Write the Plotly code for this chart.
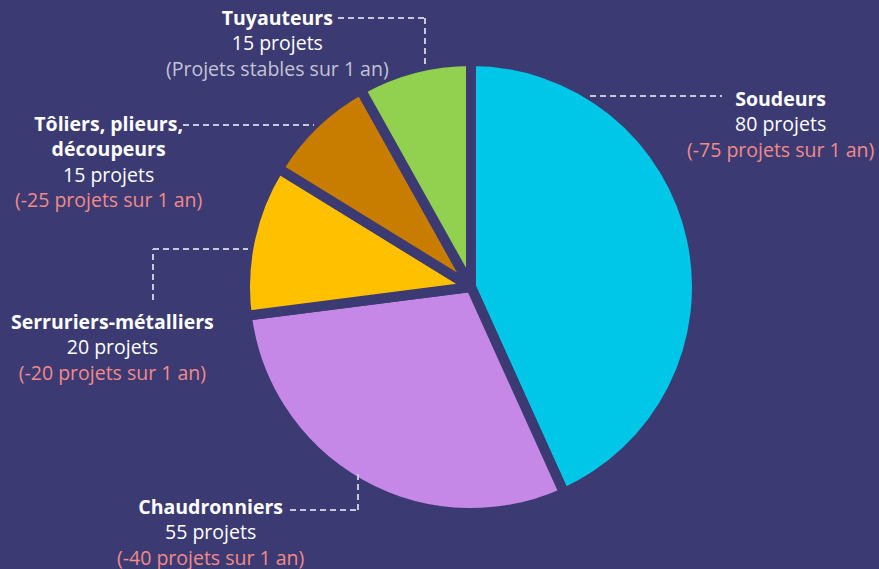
import plotly.graph_objects as go

W, H = 879, 569
BG = "#3B3A72"

metiers = ["Soudeurs", "Chaudronniers", "Serruriers-métalliers",
           "Tôliers, plieurs,<br>découpeurs", "Tuyauteurs"]
projets = [80, 55, 20, 15, 15]
evolution = ["(-75 projets sur 1 an)", "(-40 projets sur 1 an)",
             "(-20 projets sur 1 an)", "(-25 projets sur 1 an)",
             "(Projets stables sur 1 an)"]
couleurs = ["#00C7E8", "#C688E6", "#FFC000", "#C87C00", "#92D050"]
couleurs_evol = ["#F28A8A", "#F28A8A", "#F28A8A", "#F28A8A", "#C4C4D6"]

# label block centres (pixels) and leader-line paths (pixels)
label_pos = [(780, 124), (210, 532), (113, 347), (108, 162), (277, 43)]
leaders = [
    [(590, 96), (722, 96)],
    [(290, 510), (358, 510), (358, 473)],
    [(153, 300), (153, 249), (248, 249)],
    [(183, 125), (314, 125)],
    [(338, 18), (425, 18), (425, 68)],
]

def px(x, y):
    return x / W, 1 - y / H

cx, cy, R = 471, 287, 226
fig = go.Figure(go.Pie(
    labels=[m.replace("<br>", " ") for m in metiers],
    values=projets,
    sort=False,
    direction="clockwise",
    rotation=0,
    marker=dict(colors=couleurs, line=dict(color=BG, width=10)),
    textinfo="none",
    hoverinfo="label+value",
    showlegend=False,
    domain=dict(x=[(cx - R) / W, (cx + R) / W],
                y=[1 - (cy + R) / H, 1 - (cy - R) / H]),
))

FONT = "'Open Sans', Lato, sans-serif"
for m, v, e, ce, (lx, ly) in zip(metiers, projets, evolution, couleurs_evol, label_pos):
    x, y = px(lx, ly)
    fig.add_annotation(
        x=x, y=y, xref="paper", yref="paper", showarrow=False,
        align="center", xanchor="center", yanchor="middle",
        text=f"<b>{m}</b><br>{v} projets<br><span style='color:{ce}'>{e}</span>",
        font=dict(family=FONT, size=19.5, color="#FFFFFF"),
    )

for path in leaders:
    for (x0, y0), (x1, y1) in zip(path[:-1], path[1:]):
        a0, b0 = px(x0, y0)
        a1, b1 = px(x1, y1)
        fig.add_shape(type="line", xref="paper", yref="paper",
                      x0=a0, y0=b0, x1=a1, y1=b1,
                      line=dict(color="#C8C8DA", width=2, dash="6px,4px"))

fig.update_layout(
    width=W, height=H,
    margin=dict(l=0, r=0, t=0, b=0),
    paper_bgcolor=BG, plot_bgcolor=BG,
)

fig.write_html("out.html")
